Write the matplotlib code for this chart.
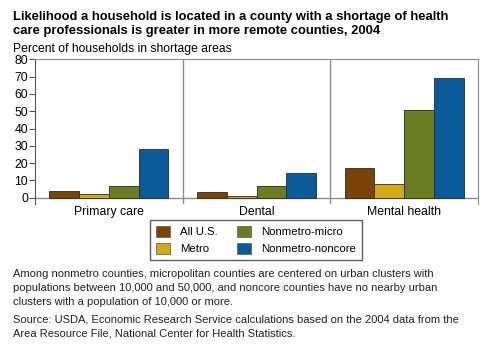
import matplotlib.pyplot as plt
import numpy as np
from matplotlib.patches import Patch

plt.rcParams['font.family'] = ['Liberation Sans', 'DejaVu Sans']

categories = ['Primary care', 'Dental', 'Mental health']
series = ['All U.S.', 'Metro', 'Nonmetro-micro', 'Nonmetro-noncore']
all_us = [4, 3, 17]
metro = [2, 1, 8]
micro = [7, 7, 51]
noncore = [28, 14, 69]
colors = ['#7a4406', '#d2a814', '#6b7d22', '#0b5b9b']

fig = plt.figure(figsize=(5, 3.52), dpi=100)
ax = fig.add_axes([0.07, 0.4213, 0.886, 0.41])

x = np.arange(len(categories))
w = 0.201
vals = [all_us, metro, micro, noncore]
for i, v in enumerate(vals):
    ax.bar(x + (i - 1.5) * w, v, w, color=colors[i], edgecolor='#2a2a2a', linewidth=0.6, zorder=3)

ax.set_xlim(-0.5, 2.5)
ax.set_ylim(-3.5, 80)
ax.axhline(0, color='#8c8c8c', lw=1, zorder=2)
for d in [0.5, 1.5]:
    ax.axvline(d, color='#8c8c8c', lw=1, zorder=1)

ax.set_yticks(range(0, 81, 10))
ax.set_xticks(x)
ax.set_xticklabels(categories, fontsize=8.8)
ax.tick_params(axis='x', length=0, pad=2)
ax.tick_params(axis='y', length=4, width=0.8, color='#555555', labelsize=8.8, pad=1)
ax.spines['bottom'].set_visible(False)
for s in ['top', 'right']:
    ax.spines[s].set_color('#8c8c8c')
ax.spines['left'].set_color('#555555')
ax.spines['left'].set_linewidth(0.8)

handles = [Patch(facecolor=colors[i], edgecolor='#555555', linewidth=0.5, label=series[i]) for i in range(4)]
fig.legend(handles=handles, ncol=2, loc='center', bbox_to_anchor=(0.512, 0.318),
           fontsize=8.2, frameon=True, fancybox=False, edgecolor='#333333',
           handlelength=1.25, handleheight=1.1, columnspacing=1.7, labelspacing=0.5,
           borderpad=0.5, handletextpad=0.9)

fig.text(0.026, 1 - 11 / 352,
         'Likelihood a household is located in a county with a shortage of health\n'
         'care professionals is greater in more remote counties, 2004',
         fontsize=9.4, fontweight='bold', va='top', linespacing=1.25)
fig.text(0.026, 1 - 43 / 352, 'Percent of households in shortage areas', fontsize=8.7, va='top')
fig.text(0.026, 1 - 269 / 352,
         'Among nonmetro counties, micropolitan counties are centered on urban clusters with\n'
         'populations between 10,000 and 50,000, and noncore counties have no nearby urban\n'
         'clusters with a population of 10,000 or more.',
         fontsize=8.0, va='top', linespacing=1.5, color='#222222')
fig.text(0.026, 1 - 315 / 352,
         'Source: USDA, Economic Research Service calculations based on the 2004 data from the\n'
         'Area Resource File, National Center for Health Statistics.',
         fontsize=8.0, va='top', linespacing=1.5, color='#222222')

fig.savefig('out.png', dpi=100)
